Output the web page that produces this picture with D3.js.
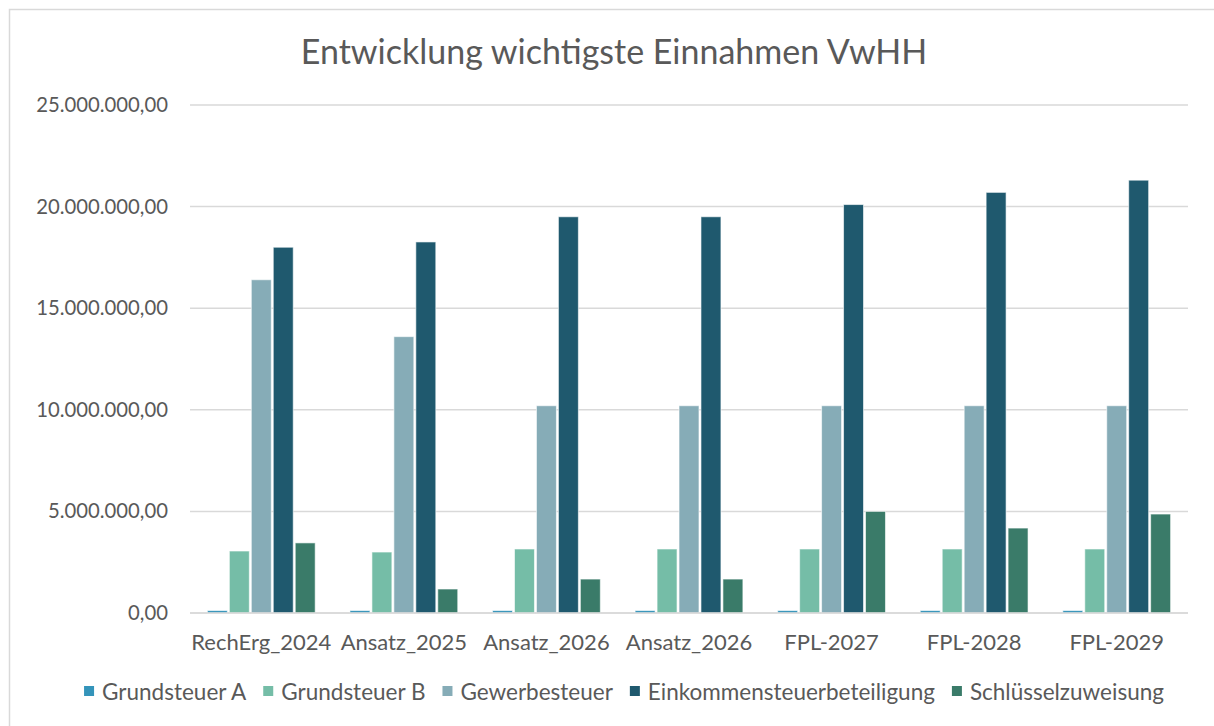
<!DOCTYPE html>
<html>
<head>
<meta charset="utf-8">
<script src="https://cdn.jsdelivr.net/npm/d3@7"></script>
<style>
  body { margin: 0; background: #fff; }
  svg { display: block; font-family: 'Lato', 'Open Sans', sans-serif; }
</style>
</head>
<body>
<svg id="chart"></svg>
<script>
const categories = ['RechErg_2024', 'Ansatz_2025', 'Ansatz_2026', 'Ansatz_2026 ', 'FPL-2027', 'FPL-2028', 'FPL-2029']
const seriesNames = ['Grundsteuer A', 'Grundsteuer B', 'Gewerbesteuer', 'Einkommensteuerbeteiligung', 'Schlüsselzuweisung']
const grundsteuerA = [120000, 120000, 120000, 120000, 120000, 120000, 120000]
const grundsteuerB = [3050000, 3000000, 3150000, 3150000, 3150000, 3150000, 3150000]
const gewerbesteuer = [16400000, 13600000, 10200000, 10200000, 10200000, 10200000, 10200000]
const einkommen = [18000000, 18260000, 19500000, 19500000, 20100000, 20700000, 21300000]
const schluessel = [3450000, 1180000, 1670000, 1670000, 5000000, 4180000, 4870000]
const yTicks = [0, 5000000, 10000000, 15000000, 20000000, 25000000]
const colors = ['#3494BA', '#75BDA7', '#86ACB7', '#1F596E', '#3A7B69']

const seriesValues = [grundsteuerA, grundsteuerB, gewerbesteuer, einkommen, schluessel]

const width = 1214
const height = 726
const margin = {top: 105, right: 26, bottom: 113, left: 190}

const svg = d3.select('#chart').attr('width', width).attr('height', height)

// outer frame
svg.append('rect')
    .attr('x', 9.5).attr('y', 9.5)
    .attr('width', width + 20).attr('height', height + 20)
    .attr('fill', 'none').attr('stroke', '#d9d9d9').attr('stroke-width', 1.5)

svg.append('text')
    .attr('x', 614).attr('y', 64)
    .attr('text-anchor', 'middle')
    .attr('fill', '#595959')
    .style('font-size', '34px')
    .text('Entwicklung wichtigste Einnahmen VwHH')

const x0 = d3.scaleBand()
    .domain(categories)
    .range([margin.left, width - margin.right])
    .paddingInner(0.23)
    .paddingOuter(0.115)

const x1 = d3.scaleBand()
    .domain(seriesNames)
    .range([0, x0.bandwidth()])
    .padding(0)

const y = d3.scaleLinear()
    .domain([0, 25000000])
    .range([height - margin.bottom, margin.top])

const fmt = v => d3.format(',.2f')(v).replace(/,/g, 'X').replace('.', ',').replace(/X/g, '.')

// gridlines
svg.append('g').selectAll('line').data(yTicks)
    .enter().append('line')
        .attr('x1', margin.left).attr('x2', width - margin.right)
        .attr('y1', d => y(d)).attr('y2', d => y(d))
        .attr('stroke', '#d9d9d9').attr('stroke-width', 1.5)

// y axis labels
const yAxis = svg.append('g')
    .attr('transform', `translate(${margin.left - 22},0)`)
    .call(d3.axisLeft(y).tickValues(yTicks).tickFormat(fmt).tickSize(0).tickPadding(0))
yAxis.select('.domain').remove()
yAxis.selectAll('text')
    .attr('fill', '#595959')
    .style('font-size', '20.3px')
    .style('font-family', "'Lato', 'Open Sans', sans-serif")

// bars
const groups = svg.append('g').selectAll('g').data(categories)
    .enter().append('g')
        .attr('transform', d => `translate(${x0(d)},0)`)

groups.selectAll('rect')
    .data((c, i) => seriesNames.map((s, j) => ({s, v: seriesValues[j][i], j})))
    .enter().append('rect')
        .attr('x', d => x1(d.s) + 1)
        .attr('width', x1.bandwidth() - 2)
        .attr('y', d => y(d.v))
        .attr('height', d => y(0) - y(d.v))
        .attr('fill', d => colors[d.j])
        .attr('stroke', '#fff')
        .attr('stroke-opacity', 0.6)
        .attr('stroke-width', 1)

// baseline
svg.append('line')
    .attr('x1', margin.left).attr('x2', width - margin.right)
    .attr('y1', y(0)).attr('y2', y(0))
    .attr('stroke', '#d9d9d9').attr('stroke-width', 1.5)

// x axis labels
const xAxis = svg.append('g')
    .attr('transform', `translate(0,${y(0)})`)
    .call(d3.axisBottom(x0).tickSize(0).tickPadding(21))
xAxis.select('.domain').remove()
xAxis.selectAll('text')
    .attr('fill', '#595959')
    .style('font-size', '22px')
    .style('font-family', "'Lato', 'Open Sans', sans-serif")

// legend
const legend = svg.append('g').attr('transform', 'translate(0,692)')
let lx = 0
seriesNames.forEach((s, i) => {
    const item = legend.append('g').attr('transform', `translate(${lx},0)`)
    item.append('rect')
        .attr('x', 0).attr('y', -6).attr('width', 10).attr('height', 10)
        .attr('fill', colors[i])
    const t = item.append('text')
        .attr('x', 18).attr('y', 0)
        .attr('dy', '0.35em')
        .attr('fill', '#595959')
        .style('font-size', '22.5px')
        .text(s)
    lx += 18 + t.node().getComputedTextLength() + 17
})
legend.attr('transform', `translate(${624 - (lx - 17) / 2},692)`)
</script>
</body>
</html>
